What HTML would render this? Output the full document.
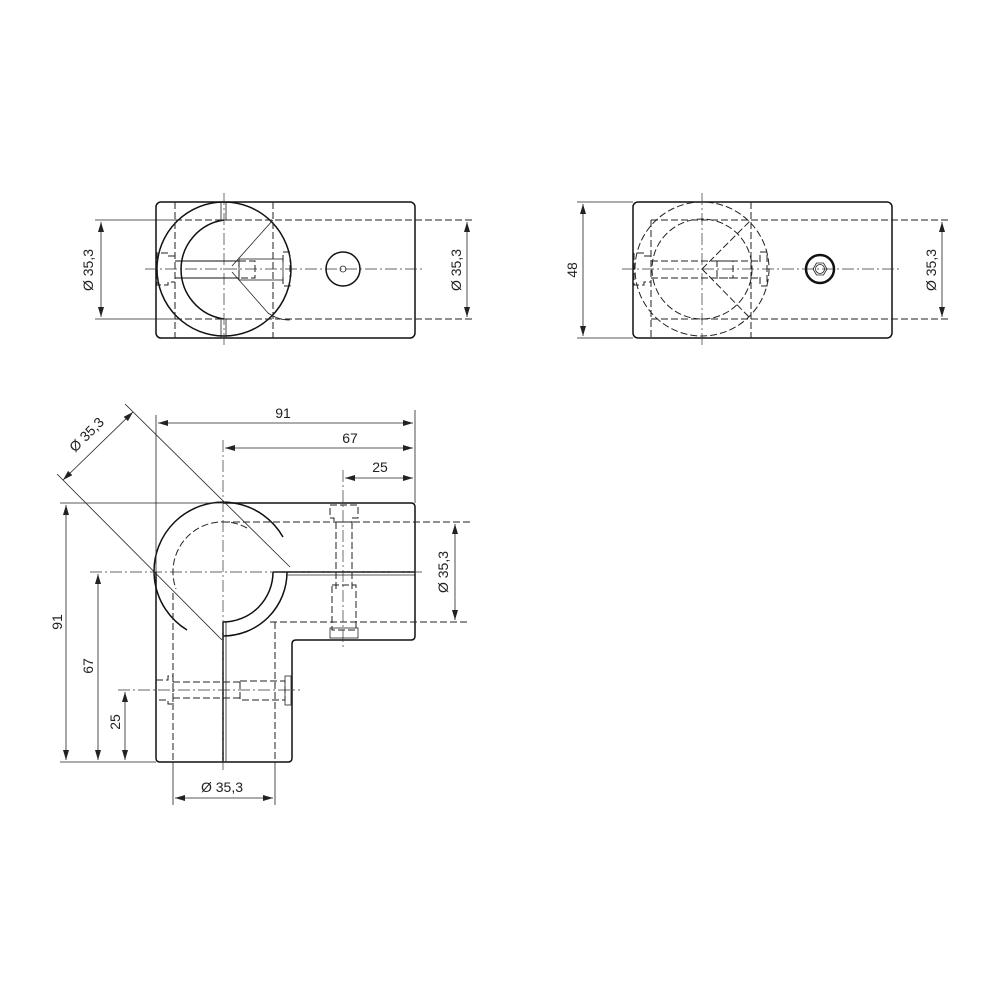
<!DOCTYPE html>
<html><head><meta charset="utf-8"><style>
html,body{margin:0;padding:0;background:#fff}
svg{display:block}
text{font-family:"Liberation Sans",sans-serif;font-size:14px;fill:#222}
.o{stroke:#111;stroke-width:1.5;fill:none}
.t{stroke:#222;stroke-width:0.8;fill:none}
.d{stroke:#222;stroke-width:1;fill:none;stroke-dasharray:7 3}
.c{stroke:#333;stroke-width:0.7;fill:none;stroke-dasharray:12 3 2 3}
</style></head><body>
<svg width="1000" height="1000" viewBox="0 0 1000 1000" xmlns="http://www.w3.org/2000/svg">
<defs>
<marker id="a" viewBox="0 0 10 6" refX="10" refY="3" markerWidth="10" markerHeight="6" orient="auto-start-reverse" markerUnits="userSpaceOnUse"><path d="M0,0 L10,3 L0,6 z" fill="#222"/></marker>
</defs>

<!-- ===== TOP LEFT VIEW ===== -->
<rect x="156" y="202" width="259" height="136" rx="5" class="o"/>
<circle cx="224" cy="269" r="67" class="o"/>
<path d="M224,220 A50,50 0 0 0 224,319" class="o"/>
<line x1="224" y1="193" x2="224" y2="346" class="c"/>
<line x1="145" y1="269" x2="425" y2="269" class="c"/>
<rect x="221" y="202" width="5" height="18" fill="#fff" class="t"/>
<rect x="221" y="319" width="5" height="19" fill="#fff" class="t"/>
<line x1="175" y1="220" x2="475" y2="220" class="d"/>
<line x1="175" y1="319" x2="475" y2="319" class="d"/>
<line x1="175" y1="202" x2="175" y2="338" class="d"/>
<line x1="273" y1="202" x2="273" y2="338" class="d"/>
<line x1="232" y1="266" x2="273" y2="220" class="t"/>
<path d="M232,272 L268,313 Q278,320 290,320" class="t"/>
<line x1="175" y1="261" x2="239" y2="261" class="o" style="stroke-width:1"/>
<line x1="175" y1="278" x2="239" y2="278" class="o" style="stroke-width:1"/>
<rect x="239" y="259" width="44" height="21" class="t"/>
<rect x="239" y="261" width="16" height="17" class="d"/>
<path d="M283,262 V252 H290 V286 H283 V276" class="d"/>
<path d="M175,256 H168 V253 H157 V285 H168 V282 H175" class="d"/>
<circle cx="343" cy="269" r="17" class="o"/>
<circle cx="343" cy="269" r="3" class="t"/>
<line x1="95" y1="220" x2="175" y2="220" class="t"/>
<line x1="95" y1="319" x2="175" y2="319" class="t"/>
<line x1="101" y1="222" x2="101" y2="317" class="t" marker-start="url(#a)" marker-end="url(#a)"/>
<text transform="translate(93,270) rotate(-90)" text-anchor="middle">Ø 35,3</text>
<line x1="467" y1="222" x2="467" y2="317" class="t" marker-start="url(#a)" marker-end="url(#a)"/>
<text transform="translate(461,270) rotate(-90)" text-anchor="middle">Ø 35,3</text>

<!-- ===== TOP RIGHT VIEW ===== -->
<rect x="633" y="202" width="259" height="136" rx="5" class="o"/>
<circle cx="702" cy="269" r="67" class="d"/>
<circle cx="702" cy="269" r="50" class="d"/>
<line x1="702" y1="193" x2="702" y2="346" class="c"/>
<line x1="622" y1="269" x2="902" y2="269" class="c"/>
<line x1="651" y1="220" x2="950" y2="220" class="d"/>
<line x1="651" y1="319" x2="950" y2="319" class="d"/>
<line x1="651" y1="220" x2="651" y2="338" class="d"/>
<line x1="751" y1="202" x2="751" y2="338" class="d"/>
<line x1="702" y1="269" x2="751" y2="220" class="d"/>
<line x1="702" y1="269" x2="751" y2="319" class="d"/>
<line x1="651" y1="261" x2="760" y2="261" class="d"/>
<line x1="651" y1="278" x2="760" y2="278" class="d"/>
<rect x="717" y="261" width="16" height="17" class="d"/>
<path d="M760,262 V252 H767 V286 H760 V276" class="d"/>
<path d="M651,256 H644 V253 H634 V285 H644 V282 H651" class="d"/>
<circle cx="820" cy="269" r="14" stroke="#111" stroke-width="2.5" fill="none"/>
<polygon points="827,269 823.5,275 816.5,275 813,269 816.5,263 823.5,263" class="t"/>
<circle cx="820" cy="269" r="4.5" class="t"/>
<line x1="577" y1="202" x2="633" y2="202" class="t"/>
<line x1="577" y1="338" x2="633" y2="338" class="t"/>
<line x1="583" y1="204" x2="583" y2="336" class="t" marker-start="url(#a)" marker-end="url(#a)"/>
<text transform="translate(577,270) rotate(-90)" text-anchor="middle">48</text>
<line x1="942" y1="222" x2="942" y2="317" class="t" marker-start="url(#a)" marker-end="url(#a)"/>
<text transform="translate(936,270) rotate(-90)" text-anchor="middle">Ø 35,3</text>

<!-- ===== BOTTOM VIEW ===== -->
<path d="M223,503 H411 Q415,503 415,507 V636 Q415,640 411,640 H296 Q292,640 292,644 V758 Q292,762 288,762 H160 Q156,762 156,758 V572" class="o"/>
<path d="M283,537 A69,69 0 1 0 187,630" class="o"/>
<path d="M247,528 A50,50 0 0 0 176,589" class="d"/>
<path d="M273,572 A50,50 0 0 1 223,622" class="o"/>
<path d="M287,572 A64,64 0 0 1 223,636" class="o"/>
<line x1="273" y1="572" x2="415" y2="572" class="o"/>
<line x1="287" y1="575" x2="415" y2="575" class="t"/>
<line x1="223" y1="622" x2="223" y2="762" class="o"/>
<line x1="226" y1="622" x2="226" y2="762" class="t"/>
<line x1="223" y1="440" x2="223" y2="770" class="c"/>
<line x1="90" y1="572" x2="425" y2="572" class="c"/>
<line x1="223" y1="522" x2="470" y2="522" class="d"/>
<line x1="270" y1="622" x2="470" y2="622" class="d"/>
<line x1="173" y1="593" x2="173" y2="762" class="d"/>
<line x1="275" y1="622" x2="275" y2="762" class="d"/>
<line x1="343" y1="470" x2="343" y2="648" class="c"/>
<path d="M330,505 H358 V518 H352 V522 H334 V518 H330 Z" class="d"/>
<line x1="336" y1="522" x2="336" y2="590" class="d"/>
<line x1="352" y1="522" x2="352" y2="590" class="d"/>
<rect x="332" y="585" width="24" height="45" class="d"/>
<rect x="330" y="628" width="28" height="10" class="t"/>
<path d="M156,680 H168 V676 H173 V704 H168 V700 H156" class="d"/>
<line x1="173" y1="682" x2="240" y2="682" class="d"/>
<line x1="173" y1="698" x2="240" y2="698" class="d"/>
<rect x="240" y="681" width="45" height="19" class="d"/>
<rect x="285" y="676" width="6" height="29" class="t"/>
<line x1="118" y1="690" x2="300" y2="690" class="c"/>
<line x1="125" y1="404" x2="290" y2="567" class="t"/>
<line x1="57" y1="474" x2="222" y2="640" class="t"/>
<line x1="133" y1="412" x2="63" y2="480" class="t" marker-start="url(#a)" marker-end="url(#a)"/>
<text transform="translate(90,438) rotate(-45)" text-anchor="middle">Ø 35,3</text>
<line x1="156" y1="415" x2="156" y2="572" class="t"/>
<line x1="415" y1="410" x2="415" y2="503" class="t"/>
<line x1="60" y1="503" x2="223" y2="503" class="t"/>
<line x1="60" y1="762" x2="156" y2="762" class="t"/>
<line x1="173" y1="762" x2="173" y2="805" class="t"/>
<line x1="275" y1="762" x2="275" y2="805" class="t"/>
<line x1="158" y1="423" x2="413" y2="423" class="t" marker-start="url(#a)" marker-end="url(#a)"/>
<text x="283" y="418" text-anchor="middle">91</text>
<line x1="225" y1="448" x2="413" y2="448" class="t" marker-start="url(#a)" marker-end="url(#a)"/>
<text x="350" y="443" text-anchor="middle">67</text>
<line x1="345" y1="478" x2="413" y2="478" class="t" marker-start="url(#a)" marker-end="url(#a)"/>
<text x="380" y="472" text-anchor="middle">25</text>
<line x1="66" y1="505" x2="66" y2="760" class="t" marker-start="url(#a)" marker-end="url(#a)"/>
<text transform="translate(62,622) rotate(-90)" text-anchor="middle">91</text>
<line x1="98" y1="574" x2="98" y2="760" class="t" marker-start="url(#a)" marker-end="url(#a)"/>
<text transform="translate(93,666) rotate(-90)" text-anchor="middle">67</text>
<line x1="125" y1="692" x2="125" y2="760" class="t" marker-start="url(#a)" marker-end="url(#a)"/>
<text transform="translate(120,722) rotate(-90)" text-anchor="middle">25</text>
<line x1="455" y1="524" x2="455" y2="620" class="t" marker-start="url(#a)" marker-end="url(#a)"/>
<text transform="translate(448,572) rotate(-90)" text-anchor="middle">Ø 35,3</text>
<line x1="175" y1="798" x2="273" y2="798" class="t" marker-start="url(#a)" marker-end="url(#a)"/>
<text x="222" y="792" text-anchor="middle">Ø 35,3</text>
</svg>
</body></html>
